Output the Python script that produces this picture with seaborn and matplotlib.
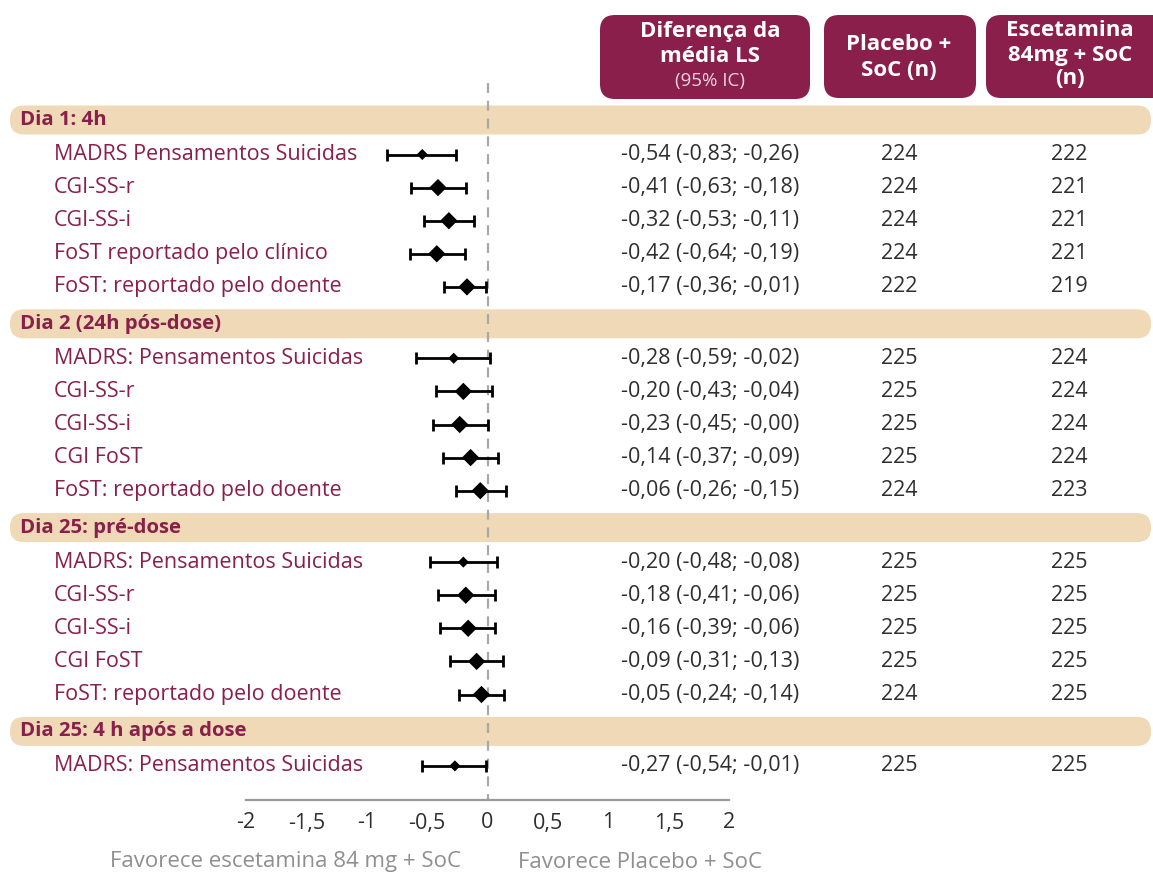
import matplotlib
matplotlib.use("Agg")
import matplotlib.pyplot as plt
from matplotlib.patches import FancyBboxPatch
import numpy as np
import pandas as pd
import seaborn as sns

# ---- data -------------------------------------------------------------
groups = ["Dia 1: 4h", "Dia 2 (24h pós-dose)", "Dia 25: pré-dose",
          "Dia 25: 4 h após a dose"]
group_index = [0, 0, 0, 0, 0, 1, 1, 1, 1, 1, 2, 2, 2, 2, 2, 3]
outcomes = [
    "MADRS Pensamentos Suicidas", "CGI-SS-r", "CGI-SS-i",
    "FoST reportado pelo clínico", "FoST: reportado pelo doente",
    "MADRS: Pensamentos Suicidas", "CGI-SS-r", "CGI-SS-i", "CGI FoST",
    "FoST: reportado pelo doente",
    "MADRS: Pensamentos Suicidas", "CGI-SS-r", "CGI-SS-i", "CGI FoST",
    "FoST: reportado pelo doente",
    "MADRS: Pensamentos Suicidas",
]
ls_mean = [-0.54, -0.41, -0.32, -0.42, -0.17,
           -0.28, -0.20, -0.23, -0.14, -0.06,
           -0.20, -0.18, -0.16, -0.09, -0.05,
           -0.27]
ci_low = [-0.83, -0.63, -0.53, -0.64, -0.36,
          -0.59, -0.43, -0.45, -0.37, -0.26,
          -0.48, -0.41, -0.39, -0.31, -0.24,
          -0.54]
ci_high = [-0.26, -0.18, -0.11, -0.19, -0.01,
           0.02, 0.04, 0.00, 0.09, 0.15,
           0.08, 0.06, 0.06, 0.13, 0.14,
           -0.01]
ci_text = [
    "-0,54 (-0,83; -0,26)", "-0,41 (-0,63; -0,18)", "-0,32 (-0,53; -0,11)",
    "-0,42 (-0,64; -0,19)", "-0,17 (-0,36; -0,01)",
    "-0,28 (-0,59; -0,02)", "-0,20 (-0,43; -0,04)", "-0,23 (-0,45; -0,00)",
    "-0,14 (-0,37; -0,09)", "-0,06 (-0,26; -0,15)",
    "-0,20 (-0,48; -0,08)", "-0,18 (-0,41; -0,06)", "-0,16 (-0,39; -0,06)",
    "-0,09 (-0,31; -0,13)", "-0,05 (-0,24; -0,14)",
    "-0,27 (-0,54; -0,01)",
]
n_placebo = [224, 224, 224, 224, 222,
             225, 225, 225, 225, 224,
             225, 225, 225, 225, 224,
             225]
n_esketamine = [222, 221, 221, 221, 219,
                224, 224, 224, 224, 223,
                225, 225, 225, 225, 225,
                225]
x_ticks = [-2, -1.5, -1, -0.5, 0, 0.5, 1, 1.5, 2]
x_tick_labels = ["-2", "-1,5", "-1", "-0,5", "0", "0,5", "1", "1,5", "2"]

# ---- style ------------------------------------------------------------
sns.set_theme(style="white")
plt.rcParams["font.family"] = ["Open Sans", "DejaVu Sans"]

MAROON = "#8a1f4b"
BAND = "#f0d9b7"
TEXT = "#2e2e2e"
GREY = "#9a9a9a"
BODY = 15.5

W, H = 1153, 873
fig = plt.figure(figsize=(W / 100, H / 100), dpi=100)

# background canvas in pixel units for bands, headers and table text
canvas = fig.add_axes([0, 0, 1, 1], zorder=0)
canvas.set_xlim(0, W)
canvas.set_ylim(H, 0)
canvas.axis("off")

# forest panel: x in effect units, y in the same vertical units as canvas
AX_LEFT, AX_RIGHT, AX_BOTTOM = 246, 729, 800
ax = fig.add_axes([AX_LEFT / W, (H - AX_BOTTOM) / H,
                   (AX_RIGHT - AX_LEFT) / W, AX_BOTTOM / H], zorder=2)
ax.patch.set_visible(False)
ax.set_xlim(-2, 2)
ax.set_ylim(AX_BOTTOM, 0)

# ---- vertical layout --------------------------------------------------
band_y, row_y = [], []
pos = 120.0
for g in range(len(groups)):
    band_y.append(pos)
    pos += 34.5
    for _ in range(group_index.count(g)):
        row_y.append(pos)
        pos += 33.1
    pos += 3.8

df = pd.DataFrame({
    "outcome": outcomes, "mean": ls_mean, "low": ci_low, "high": ci_high,
    "y": row_y,
})
df["kind"] = np.where(df["outcome"].str.startswith("MADRS"), "small", "large")

# ---- header boxes -----------------------------------------------------
def header_box(x0, x1, y0, y1):
    canvas.add_patch(FancyBboxPatch((x0, y0), x1 - x0, y1 - y0,
                                    boxstyle="round,pad=0,rounding_size=15",
                                    facecolor=MAROON, edgecolor="none"))

header_box(600, 810, 15, 99)
header_box(824, 976, 15, 98)
header_box(986, 1170, 15, 98)

hdr = dict(color="white", fontsize=16, fontweight="bold",
           ha="center", va="center")
canvas.text(710, 32, "Diferença da", **hdr)
canvas.text(710, 57, "média LS", **hdr)
canvas.text(710, 81, "(95% IC)", color="#ecd3dd", fontsize=13.5,
            ha="center", va="center")
canvas.text(899, 45, "Placebo +", **hdr)
canvas.text(899, 70, "SoC (n)", **hdr)
canvas.text(1070, 31, "Escetamina", **hdr)
canvas.text(1070, 56, "84mg + SoC", **hdr)
canvas.text(1070, 79, "(n)", **hdr)

# ---- group bands ------------------------------------------------------
for label, yb in zip(groups, band_y):
    canvas.add_patch(FancyBboxPatch((10, yb - 14.5), 1141, 29,
                                    boxstyle="round,pad=0,rounding_size=14",
                                    facecolor=BAND, edgecolor="none"))
    canvas.text(20, yb, label, color=MAROON, fontsize=14.7,
                fontweight="bold", ha="left", va="center")

# ---- table text -------------------------------------------------------
for i, r in df.iterrows():
    canvas.text(54, r["y"], r["outcome"], color=MAROON, fontsize=BODY,
                ha="left", va="center")
    canvas.text(710, r["y"], ci_text[i], color=TEXT, fontsize=BODY,
                ha="center", va="center")
    canvas.text(899, r["y"], str(n_placebo[i]), color=TEXT, fontsize=BODY,
                ha="center", va="center")
    canvas.text(1069, r["y"], str(n_esketamine[i]), color=TEXT,
                fontsize=BODY, ha="center", va="center")

# ---- forest marks -----------------------------------------------------
ax.vlines(0, 83, AX_BOTTOM, colors="#a8a8a8", linewidth=1.6,
          linestyles=(0, (4.5, 3.5)), zorder=1)

ax.errorbar(df["mean"], df["y"],
            xerr=[df["mean"] - df["low"], df["high"] - df["mean"]],
            fmt="none", ecolor="black", elinewidth=2.0, capsize=4.5,
            capthick=2.0, zorder=3)
sns.scatterplot(data=df, x="mean", y="y", size="kind",
                sizes={"small": 32, "large": 78}, marker="D",
                color="black", edgecolor="none", legend=False, ax=ax,
                zorder=4)

# ---- axis -------------------------------------------------------------
for side in ["top", "right", "left"]:
    ax.spines[side].set_visible(False)
ax.spines["bottom"].set_color(GREY)
ax.spines["bottom"].set_linewidth(1.6)
ax.set_xticks(x_ticks)
ax.set_xticklabels(x_tick_labels)
ax.set_yticks([])
ax.tick_params(axis="x", direction="out", length=6, width=1.6,
               color=GREY, labelcolor=TEXT, labelsize=15.5, pad=3)
ax.set_xlabel("")
ax.set_ylabel("")

canvas.text(285, 862, "Favorece escetamina 84 mg + SoC", color="#8f8f8f",
            fontsize=16, ha="center", va="center")
canvas.text(640, 862, "Favorece Placebo + SoC", color="#8f8f8f",
            fontsize=16, ha="center", va="center")

fig.savefig("out.png", dpi=100)
